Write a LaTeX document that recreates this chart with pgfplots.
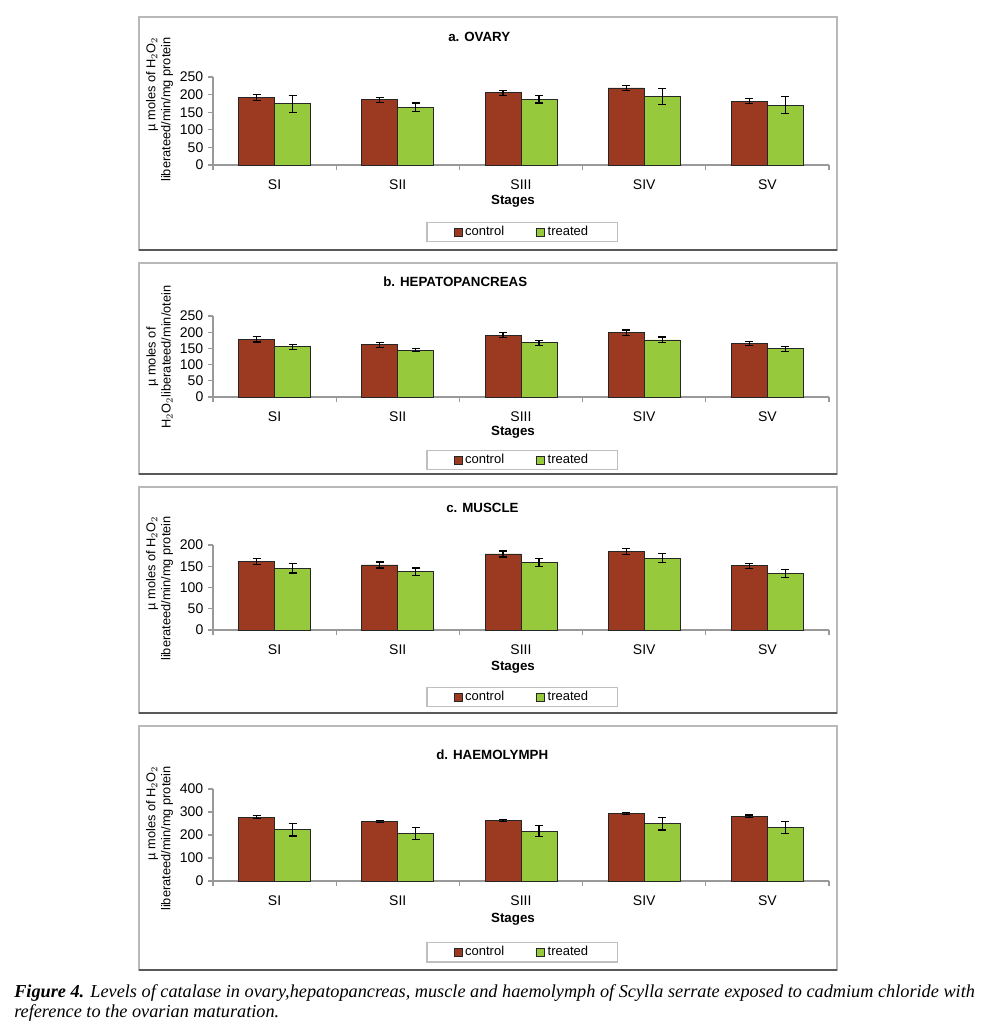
\documentclass[border=0pt]{standalone}
\usepackage{fontspec}
\setmainfont{Liberation Sans}
\newfontfamily\capfont{Liberation Serif}
\usepackage{pgfplots}
\pgfplotsset{compat=1.18}
\def\u{0.75pt}
\definecolor{ctrl}{RGB}{155,58,32}
\definecolor{trt}{RGB}{150,202,60}
\pgfplotsset{
  panel/.style={
    scale only axis, anchor=south west, width=616*\u,
    xmin=-0.5, xmax=4.5, ymin=0,
    ybar=0pt, bar width=27pt,
    axis x line*=bottom, axis y line*=left,
    axis line style={gray!80, line width=0.8pt},
    xtick={0,...,4}, xticklabels={SI,SII,SIII,SIV,SV},
    minor xtick={-0.5,0.5,1.5,2.5,3.5,4.5},
    major x tick style={draw=none},
    tick style={gray!80, line width=0.8pt},
    tick align=outside, major tick length=5*\u, minor tick length=5*\u,
    ticklabel style={font=\fontsize{10.5}{12}\selectfont},
    /pgf/number format/assume math mode=true,
    xticklabel style={yshift=-4pt},
    xlabel={Stages},
    xlabel style={font=\fontsize{10}{12}\selectfont\bfseries, anchor=center},
    legend columns=2,
    legend style={anchor=north, draw=gray!50, line width=0.8pt,
      font=\fontsize{9.75}{11}\selectfont, inner xsep=20pt, inner ysep=1pt,
      /tikz/every even column/.append style={column sep=22pt}},
    error bars/y dir=both, error bars/y explicit,
    error bars/error bar style={black, line width=0.9pt},
    error bars/error mark options={rotate=90, black, mark size=3pt, line width=0.9pt},
  },
  cbar/.style={fill=ctrl, draw=black!85, line width=0.6pt,
    legend image code/.code={\draw[fill=ctrl, draw=black!85] (0pt,-3pt) rectangle (6pt,3pt);}},
  tbar/.style={fill=trt, draw=black!85, line width=0.6pt,
    legend image code/.code={\draw[fill=trt, draw=black!85] (0pt,-3pt) rectangle (6pt,3pt);}},
}
\pgfplotstableread{
x c ce t te
0 192 8 174 24
1 185 7 164 12
2 205 7 187 11
3 219 7 194 23
4 181 7 170 24
}\ovary
\pgfplotstableread{
x c ce t te
0 178 8 155 8
1 161 8 145 5
2 191 8 167 8
3 199 8 176 9
4 165 7 149 8
}\hepato
\pgfplotstableread{
x c ce t te
0 162 7 145 11
1 153 7 137 9
2 179 7 159 10
3 184 7 169 11
4 151 6 133 9
}\muscle
\pgfplotstableread{
x c ce t te
0 278 6 223 27
1 259 5 207 25
2 264 5 217 25
3 294 5 249 27
4 282 5 233 27
}\haemo
\newcommand\frm[2]{%
  \draw[gray!55, line width=1.5*\u] (139*\u,-#1*\u) rectangle (837*\u,-#2*\u);
  \draw[black!65, line width=2*\u] (139*\u,-#2*\u) -- (837*\u,-#2*\u);}
\begin{document}
\begin{tikzpicture}
\path[use as bounding box] (0,0) rectangle (999*\u,-1032*\u);
\fill[white] (0,0) rectangle (999*\u,-1032*\u);
% frames
\frm{17}{250}
\frm{263}{474}
\frm{487}{713}
\frm{726}{970}
% panel a
\begin{axis}[panel, at={(213*\u,-165*\u)}, height=88*\u, ymax=250, ytick={0,50,...,250},
  xlabel style={at={(axis description cs:0.487,-36/88)}},
  legend style={at={(axis description cs:0.502,-57/88)}}]
\addplot[cbar] table[x=x,y=c,y error=ce]{\ovary};
\addplot[tbar] table[x=x,y=t,y error=te]{\ovary};
\legend{control,treated}
\end{axis}
% panel b
\begin{axis}[panel, at={(213*\u,-397*\u)}, height=81*\u, ymax=250, ytick={0,50,...,250},
  xlabel style={at={(axis description cs:0.487,-35/81)}},
  legend style={at={(axis description cs:0.502,-53/81)}}]
\addplot[cbar] table[x=x,y=c,y error=ce]{\hepato};
\addplot[tbar] table[x=x,y=t,y error=te]{\hepato};
\legend{control,treated}
\end{axis}
% panel c
\begin{axis}[panel, at={(213*\u,-630*\u)}, height=85*\u, ymax=200, ytick={0,50,...,200},
  xlabel style={at={(axis description cs:0.487,-37/85)}},
  legend style={at={(axis description cs:0.502,-57/85)}}]
\addplot[cbar] table[x=x,y=c,y error=ce]{\muscle};
\addplot[tbar] table[x=x,y=t,y error=te]{\muscle};
\legend{control,treated}
\end{axis}
% panel d
\begin{axis}[panel, at={(213*\u,-881*\u)}, height=92*\u, ymax=400, ytick={0,100,...,400},
  xlabel style={at={(axis description cs:0.487,-38/92)}},
  legend style={at={(axis description cs:0.502,-61/92)}}]
\addplot[cbar] table[x=x,y=c,y error=ce]{\haemo};
\addplot[tbar] table[x=x,y=t,y error=te]{\haemo};
\legend{control,treated}
\end{axis}
% titles
\begin{scope}[every node/.style={font=\fontsize{10}{12}\selectfont\bfseries, anchor=west, inner sep=0pt}]
\node at (448*\u,-37*\u) {a. OVARY};
\node at (383*\u,-282*\u) {b. HEPATOPANCREAS};
\node at (446*\u,-508*\u) {c. MUSCLE};
\node at (436*\u,-755*\u) {d. HAEMOLYMPH};
\end{scope}
% y labels
\begin{scope}[every node/.style={font=\fontsize{9.6}{11.25}\selectfont, rotate=90, inner sep=0pt}]
\node[anchor=east, align=right] at (159.5*\u,-37*\u) {µ moles of H$_2$O$_2$\\liberateed/min/mg protein};
\node[anchor=center, align=center] at (159.5*\u,-357*\u) {µ moles of\\H$_2$O$_2$liberateed/min/otein};
\node[anchor=east, align=right] at (159.5*\u,-516*\u) {µ moles of H$_2$O$_2$\\liberateed/min/mg protein};
\node[anchor=east, align=right] at (159.5*\u,-766*\u) {µ moles of H$_2$O$_2$\\liberateed/min/mg protein};
\end{scope}
% caption
\node[anchor=base west, inner sep=0pt, font=\capfont\itshape\fontsize{13.7}{16}\selectfont] at (14*\u,-997*\u) {\textbf{Figure 4.} Levels of catalase in ovary,hepatopancreas, muscle and haemolymph of Scylla serrate exposed to cadmium chloride with};
\node[anchor=base west, inner sep=0pt, font=\capfont\itshape\fontsize{13.7}{16}\selectfont] at (14*\u,-1017*\u) {reference to the ovarian maturation.};
\end{tikzpicture}
\end{document}
